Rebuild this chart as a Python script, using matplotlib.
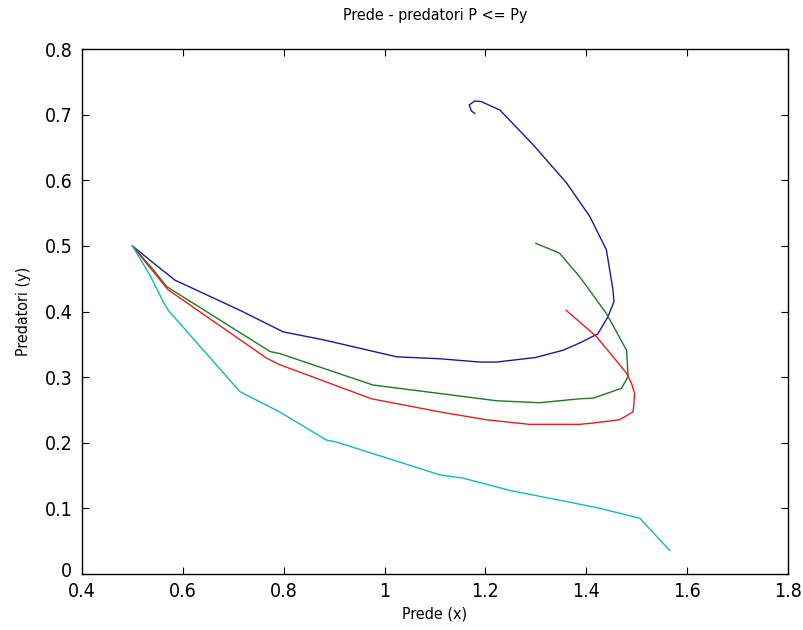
import matplotlib
matplotlib.use("Agg")
import matplotlib.pyplot as plt
import matplotlib.transforms as mtransforms

# trajectories (x = prede, y = predatori), all starting from (0.5, 0.5)
blue_x = [0.50, 0.54, 0.584, 0.713, 0.799, 0.878, 1.024, 1.11, 1.189, 1.222, 1.30, 1.354,
          1.387, 1.423, 1.443, 1.455, 1.453, 1.44, 1.407, 1.361, 1.295, 1.229, 1.192,
          1.179, 1.168, 1.172, 1.179]
blue_y = [0.50, 0.475, 0.448, 0.402, 0.369, 0.357, 0.331, 0.328, 0.323, 0.323, 0.330, 0.341,
          0.352, 0.366, 0.392, 0.415, 0.433, 0.494, 0.545, 0.596, 0.654, 0.707, 0.720,
          0.721, 0.715, 0.706, 0.702]

green_x = [0.50, 0.54, 0.568, 0.773, 0.792, 0.977, 1.11, 1.222, 1.308, 1.387, 1.414, 1.47,
           1.483, 1.48, 1.44, 1.387, 1.347, 1.30]
green_y = [0.50, 0.465, 0.438, 0.339, 0.336, 0.288, 0.275, 0.264, 0.261, 0.267, 0.268, 0.283,
           0.301, 0.341, 0.397, 0.453, 0.489, 0.504]

red_x = [0.50, 0.54, 0.571, 0.766, 0.792, 0.974, 1.11, 1.202, 1.288, 1.387, 1.413, 1.466,
         1.493, 1.496, 1.49, 1.48, 1.42, 1.36]
red_y = [0.50, 0.462, 0.433, 0.329, 0.319, 0.267, 0.247, 0.235, 0.228, 0.228, 0.230, 0.235,
         0.247, 0.275, 0.290, 0.306, 0.362, 0.402]

cyan_x = [0.50, 0.535, 0.561, 0.571, 0.713, 0.792, 0.885, 0.905, 1.11, 1.156, 1.25, 1.35,
          1.427, 1.506, 1.566]
cyan_y = [0.50, 0.455, 0.415, 0.402, 0.278, 0.247, 0.204, 0.201, 0.151, 0.146, 0.127, 0.112,
          0.100, 0.085, 0.0355]

x_ticks = [0.4, 0.6, 0.8, 1.0, 1.2, 1.4, 1.6, 1.8]
x_tick_labels = ["0.4", "0.6", "0.8", "1", "1.2", "1.4", "1.6", "1.8"]
y_ticks = [0, 0.1, 0.2, 0.3, 0.4, 0.5, 0.6, 0.7, 0.8]
y_tick_labels = ["0", "0.1", "0.2", "0.3", "0.4", "0.5", "0.6", "0.7", "0.8"]

plt.rcParams['font.family'] = ['DejaVu Sans']
plt.rcParams['font.stretch'] = 'condensed'

fig = plt.figure(figsize=(8.04, 6.30), dpi=100)
ax = fig.add_axes([0.102, 0.089, 0.878, 0.833])

ax.plot(blue_x, blue_y, color='#1a1a96', linewidth=1.0)
ax.plot(green_x, green_y, color='#1f7a1f', linewidth=1.0)
ax.plot(red_x, red_y, color='#e02020', linewidth=1.0)
ax.plot(cyan_x, cyan_y, color='#10b8c0', linewidth=1.0)

ax.set_xlim(0.4, 1.8)
ax.set_ylim(0, 0.8)
ax.set_xticks(x_ticks)
ax.set_xticklabels(x_tick_labels)
ax.set_yticks(y_ticks)
ax.set_yticklabels(y_tick_labels)
ax.tick_params(direction='in', length=5, width=0.8, labelsize=14,
               top=True, right=True)
ax.tick_params(axis='x', pad=6)
ax.tick_params(axis='y', pad=7)
for s in ax.spines.values():
    s.set_linewidth(1.0)

# lift the "0" on the y axis a little so it clears the "0.4" below it
zero_lbl = ax.get_yticklabels()[0]
zero_lbl.set_transform(zero_lbl.get_transform() +
                       mtransforms.ScaledTranslation(0, 3 / 72, fig.dpi_scale_trans))

ax.set_title("Prede - predatori P <= Py", fontsize=11.5, pad=21)
ax.set_xlabel("Prede (x)", fontsize=11.5, labelpad=4)
ax.set_ylabel("Predatori (y)", fontsize=11.5, labelpad=10)

fig.savefig("out.png", dpi=100)
